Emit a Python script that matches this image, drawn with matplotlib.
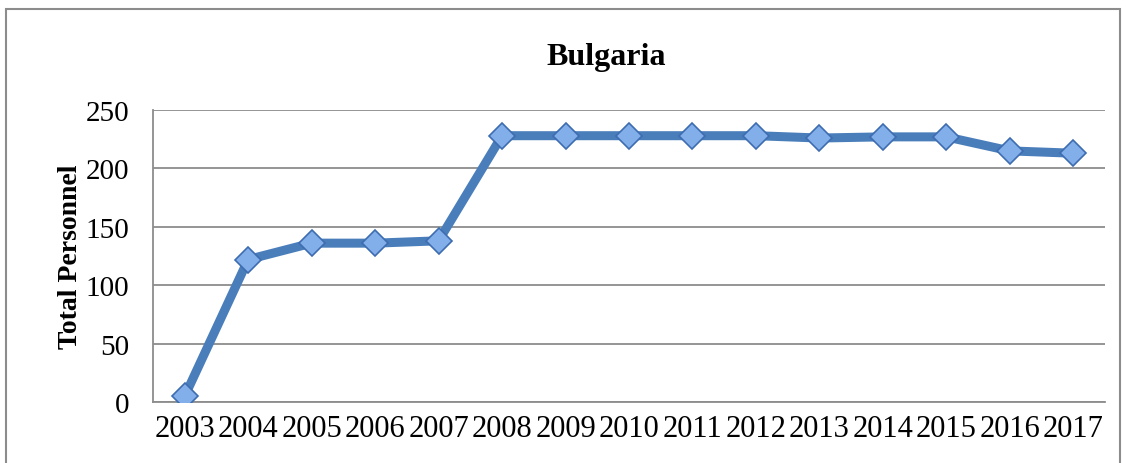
import matplotlib
matplotlib.use('Agg')
from matplotlib import pyplot as plt
from matplotlib.patches import Rectangle

# data
years = ['2003', '2004', '2005', '2006', '2007', '2008', '2009', '2010',
         '2011', '2012', '2013', '2014', '2015', '2016', '2017']
personnel = [5, 122, 136, 136, 138, 228, 228, 228, 228, 228, 226, 227, 227, 215, 213]

plt.rcParams['font.family'] = ['Liberation Serif', 'DejaVu Serif']

fig = plt.figure(figsize=(11.26, 4.64), dpi=100)
ax = fig.add_axes([153 / 1126, 61 / 464, 952 / 1126, 292 / 464])

# outer chart border
fig.patches.append(Rectangle((6 / 1126, -0.05), 1114 / 1126, (454 / 464) + 0.05,
                             transform=fig.transFigure, fill=False,
                             edgecolor='#8c8c8c', linewidth=1.5))

x = range(len(years))
ax.plot(x, personnel, color='#4a7ebb', linewidth=6.5, zorder=3,
        marker='D', markersize=13.5, markerfacecolor='#82aeea',
        markeredgecolor='#3d6db0', markeredgewidth=1.2)

ax.set_xlim(-0.5, len(years) - 0.5)
ax.set_ylim(0, 250)
ax.set_yticks([0, 50, 100, 150, 200, 250])
ax.set_xticks(list(x))
ax.set_xticklabels(years)
ax.tick_params(axis='both', length=0, colors='black')
ax.tick_params(axis='y', pad=17, labelsize=21)
ax.tick_params(axis='x', pad=9, labelsize=22)

ax.grid(axis='y', color='#8c8c8c', linewidth=1.3)
ax.set_axisbelow(True)
for s in ['top', 'right']:
    ax.spines[s].set_visible(False)
for s in ['left', 'bottom']:
    ax.spines[s].set_color('#8c8c8c')
    ax.spines[s].set_linewidth(1.3)

ax.set_ylabel('Total Personnel', fontsize=20, fontweight='bold', labelpad=2)
fig.text(606 / 1126, 1 - 57 / 464, 'Bulgaria', fontsize=23, fontweight='bold',
         ha='center', va='center')

plt.savefig('out.png', dpi=100)
